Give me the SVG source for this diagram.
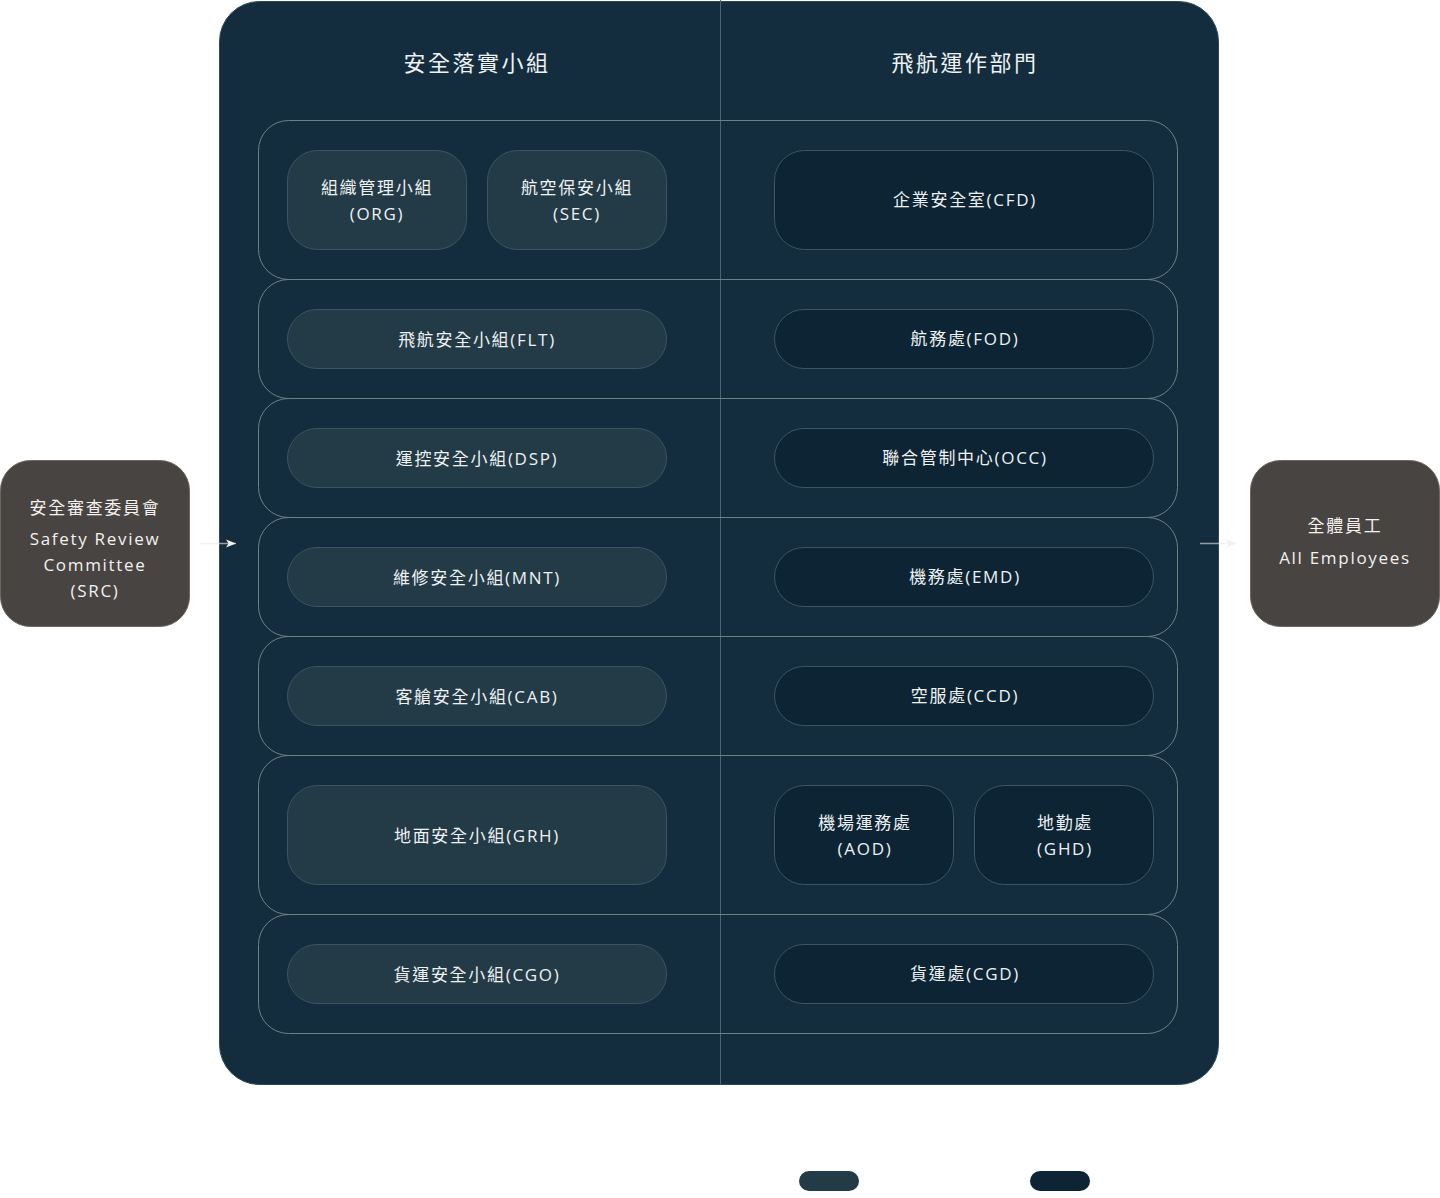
<svg xmlns="http://www.w3.org/2000/svg" width="1440" height="1198" viewBox="0 0 1440 1198">
<defs>
<style>
text{font-family:"Open Sans","Noto Sans CJK TC",sans-serif;fill:#eef1f2;text-anchor:middle;dominant-baseline:central;stroke:none;}
.hdr{font-size:22px;letter-spacing:2.5px;}
.t{font-size:17px;letter-spacing:1.7px;}
.band{fill:none;stroke:#6f7f86;stroke-width:1;}
.pl{fill:#233a47;stroke:#3a5563;stroke-width:1;}
.pr{fill:#0c2433;stroke:#3a5563;stroke-width:1;}
.ext{fill:#474441;stroke:#6e665e;stroke-width:1;}
.et{fill:#f4f1ee;}
.conn{stroke:#eee7e1;stroke-width:1.5;fill:none;}
</style>
<marker id="ah" viewBox="0 0 10 10" refX="10" refY="5" markerWidth="10" markerHeight="10" markerUnits="userSpaceOnUse" orient="auto">
<path d="M0,1 L10,5 L0,9 L2.5,5 Z" fill="#f4efea"/>
</marker>
</defs>

<g id="container">
<rect x="219.5" y="1.5" width="999" height="1083" rx="40" fill="#132d3f" stroke="#2c4857"/>
<line x1="720.5" y1="0" x2="720.5" y2="1084" stroke="#4d6572"/>
<text class="hdr" x="477" y="62">安全落實小組</text>
<text class="hdr" x="965" y="62">飛航運作部門</text>
</g>

<g id="bands">
<rect class="band" x="258.5" y="120.5" width="919" height="159" rx="30"/>
<rect class="band" x="258.5" y="279.5" width="919" height="119" rx="30"/>
<rect class="band" x="258.5" y="398.5" width="919" height="119" rx="30"/>
<rect class="band" x="258.5" y="517.5" width="919" height="119" rx="30"/>
<rect class="band" x="258.5" y="636.5" width="919" height="119" rx="30"/>
<rect class="band" x="258.5" y="755.5" width="919" height="159" rx="30"/>
<rect class="band" x="258.5" y="914.5" width="919" height="119" rx="30"/>
</g>

<g id="org"><rect class="pl" x="287.5" y="150.5" width="179" height="99" rx="30"/><text class="t" x="377" y="187">組織管理小組</text><text class="t" x="377" y="213">(ORG)</text></g>
<g id="sec"><rect class="pl" x="487.5" y="150.5" width="179" height="99" rx="30"/><text class="t" x="577" y="187">航空保安小組</text><text class="t" x="577" y="213">(SEC)</text></g>
<g id="cfd"><rect class="pr" x="774.5" y="150.5" width="379" height="99" rx="30"/><text class="t" x="965" y="199">企業安全室(CFD)</text></g>

<g id="flt"><rect class="pl" x="287.5" y="309.5" width="379" height="59" rx="29.5"/><text class="t" x="477" y="339">飛航安全小組(FLT)</text></g>
<g id="fod"><rect class="pr" x="774.5" y="309.5" width="379" height="59" rx="29.5"/><text class="t" x="965" y="338">航務處(FOD)</text></g>

<g id="dsp"><rect class="pl" x="287.5" y="428.5" width="379" height="59" rx="29.5"/><text class="t" x="477" y="458">運控安全小組(DSP)</text></g>
<g id="occ"><rect class="pr" x="774.5" y="428.5" width="379" height="59" rx="29.5"/><text class="t" x="965" y="457">聯合管制中心(OCC)</text></g>

<g id="mnt"><rect class="pl" x="287.5" y="547.5" width="379" height="59" rx="29.5"/><text class="t" x="477" y="577">維修安全小組(MNT)</text></g>
<g id="emd"><rect class="pr" x="774.5" y="547.5" width="379" height="59" rx="29.5"/><text class="t" x="965" y="576">機務處(EMD)</text></g>

<g id="cab"><rect class="pl" x="287.5" y="666.5" width="379" height="59" rx="29.5"/><text class="t" x="477" y="696">客艙安全小組(CAB)</text></g>
<g id="ccd"><rect class="pr" x="774.5" y="666.5" width="379" height="59" rx="29.5"/><text class="t" x="965" y="695">空服處(CCD)</text></g>

<g id="grh"><rect class="pl" x="287.5" y="785.5" width="379" height="99" rx="30"/><text class="t" x="477" y="835">地面安全小組(GRH)</text></g>
<g id="aod"><rect class="pr" x="774.5" y="785.5" width="179" height="99" rx="30"/><text class="t" x="865" y="822">機場運務處</text><text class="t" x="865" y="848">(AOD)</text></g>
<g id="ghd"><rect class="pr" x="974.5" y="785.5" width="179" height="99" rx="30"/><text class="t" x="1065" y="822">地勤處</text><text class="t" x="1065" y="848">(GHD)</text></g>

<g id="cgo"><rect class="pl" x="287.5" y="944.5" width="379" height="59" rx="29.5"/><text class="t" x="477" y="974">貨運安全小組(CGO)</text></g>
<g id="cgd"><rect class="pr" x="774.5" y="944.5" width="379" height="59" rx="29.5"/><text class="t" x="965" y="973">貨運處(CGD)</text></g>

<g id="src">
<rect class="ext" x="0.5" y="460.5" width="189" height="166" rx="30"/>
<text class="t et" x="95" y="507">安全審查委員會</text>
<text class="t et" x="95" y="538">Safety Review</text>
<text class="t et" x="95" y="564">Committee</text>
<text class="t et" x="95" y="590">(SRC)</text>
</g>

<g id="all">
<rect class="ext" x="1250.5" y="460.5" width="189" height="166" rx="30"/>
<text class="t et" x="1345" y="525">全體員工</text>
<text class="t et" x="1345" y="557">All Employees</text>
</g>

<g id="legend">
<rect x="799" y="1171" width="60" height="20" rx="10" fill="#233a47"/>
<rect x="1030" y="1171" width="60" height="20" rx="10" fill="#0c2433"/>
</g>

<g id="connectors">
<line class="conn" x1="200" y1="543.5" x2="236" y2="543.5" marker-end="url(#ah)" stroke-opacity="0.6"/>
<line class="conn" x1="1200" y1="543.5" x2="1236" y2="543.5" marker-end="url(#ah)" stroke-opacity="0.6"/>
</g>
</svg>
